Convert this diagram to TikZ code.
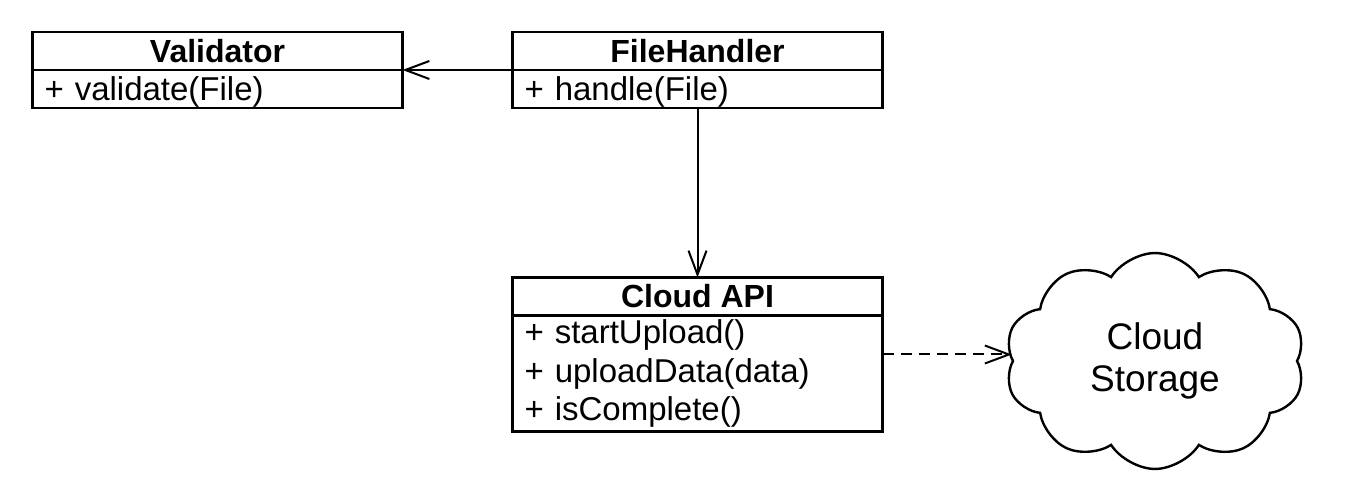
\documentclass[tikz,border=0pt]{standalone}
\usepackage{fontspec}
\setmainfont{Liberation Sans}
\usetikzlibrary{shapes,arrows.meta,positioning,fit}

\tikzset{
    classtitle/.style={draw, line width=2.4pt, outer sep=0pt, inner sep=0pt,
        minimum width=370pt, minimum height=38pt,
        font=\fontsize{32}{38}\selectfont\bfseries},
    classbody/.style={draw, line width=2.4pt, outer sep=0pt, inner ysep=0pt,
        inner xsep=12pt, minimum width=370pt, minimum height=38pt,
        text width=346pt, align=left,
        font=\fontsize{33}{38.5}\selectfont},
    onerow/.style={text depth=0pt},
    storage/.style={cloud, draw, line width=2.4pt, cloud puffs=10,
        cloud puff arc=115, minimum width=300pt, minimum height=212pt,
        align=center, font=\fontsize{37}{42}\selectfont},
    uses/.style={line width=2pt, -{Straight Barb[length=24pt,width=18pt]}},
}

\begin{document}
\begin{tikzpicture}[x=1pt,y=-1pt]
    \useasboundingbox (0,0) rectangle (1349,502);

    % Classes
    \node[classtitle] (val) at (217.5,51) {Validator};
    \node[classbody, onerow, below=0pt of val] (valbody) {+ validate(File)};

    \node[classtitle] (fh) at (697.5,51) {FileHandler};
    \node[classbody, onerow, below=0pt of fh] (fhbody) {+ handle(File)};

    \node[classtitle] (api) at (697.5,296.5) {Cloud API};
    \node[classbody, minimum height=116pt, below=0pt of api] (apibody)
        {+ startUpload()\\+ uploadData(data)\\+ isComplete()};
    \node[fit=(api)(apibody), inner sep=0pt] (apiclass) {};

    % Storage
    \node[storage] (store) at (1155,361) {Cloud\\Storage};

    % Connections
    \draw[uses] (fh.south west) -- (val.south east);
    \draw[uses] (fhbody.south) -- (api.north);
    \draw[uses, dash pattern=on 11pt off 7pt] (apiclass.east) -- (apiclass.east -| store.west);
\end{tikzpicture}
\end{document}
